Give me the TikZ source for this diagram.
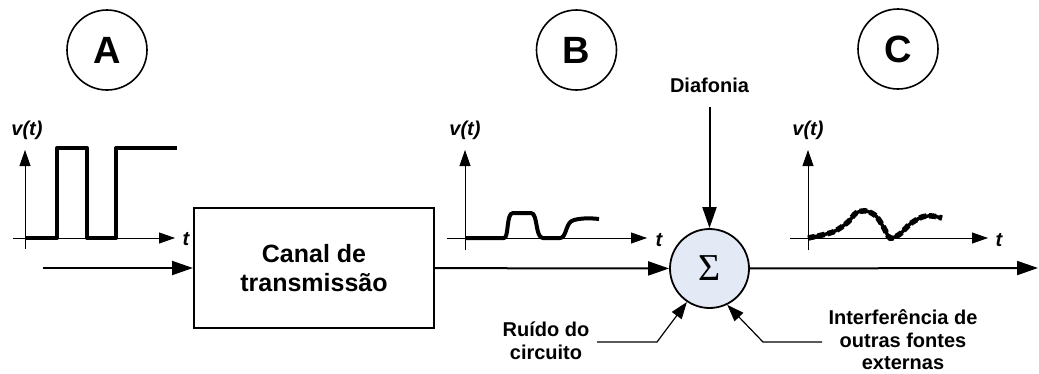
\documentclass[tikz,border=0pt]{standalone}
\usepackage{fontspec}
\setmainfont{Liberation Sans}
\newfontfamily\greekfont{Liberation Serif}
\usetikzlibrary{arrows.meta,positioning}
\definecolor{ink}{HTML}{000000}
\definecolor{sumfill}{HTML}{E3EAF6}
\tikzset{
  marker/.style={circle, draw=ink, line width=1.6pt, minimum size=80pt, inner sep=0pt, font=\fontsize{38}{40}\selectfont\bfseries},
  block/.style={draw=ink, line width=2pt, minimum width=240pt, minimum height=120pt, inner sep=0pt, align=center, font=\fontsize{25}{29}\selectfont\bfseries},
  sum/.style={circle, draw=ink, line width=1.8pt, fill=sumfill, minimum size=79pt, inner sep=0pt, font=\greekfont\fontsize{38}{38}\selectfont},
  lbl/.style={font=\fontsize{20}{22.5}\selectfont\bfseries, align=center, inner sep=0pt},
  axlbl/.style={font=\fontsize{20}{22}\selectfont\bfseries\itshape, inner sep=0pt},
  arrow/.style={-{Triangle[length=21pt,width=14pt]}, line width=2pt, draw=ink},
  axis/.style={-{Triangle[length=16pt,width=11pt]}, line width=0.8pt, draw=ink},
  leader/.style={-{Triangle[length=17pt,width=12pt]}, line width=1.2pt, draw=ink},
  signal/.style={line width=4pt, draw=ink, line join=round},
  noisy/.style={line width=5.5pt, draw=ink, dash pattern=on 7pt off 3pt}
}
\begin{document}
\begin{tikzpicture}[x=1pt, y=-1pt]
\useasboundingbox (0,0) rectangle (1039,373);
% stage markers
\node[marker] (mA) at (107,50) {A};
\node[marker] (mB) at (576.5,50) {B};
\node[marker] (mC) at (898,49) {C};
% channel and summing point
\node[block] (chan) at (314,268) {Canal de\\transmissão};
\node[sum] (sum) at (709.5,268.5) {Σ};
\coordinate (in) at (43,268);
\coordinate (out) at (1038,268);
\draw[arrow] (in) -- (chan);
\draw[arrow] (chan) -- (sum);
\draw[arrow] (sum) -- (out);
% interference sources
\node[lbl] (diaf) at (709.5,85) {Diafonia};
\coordinate (diafin) at (709.5,107);
\draw[arrow] (diafin) -- (sum);
\node[lbl] (ruido) at (546,341) {Ruído do\\circuito};
\coordinate (ruidoin) at (597,342);
\draw[leader] (ruidoin) -- (657,342) -- (sum.236);
\node[lbl] (interf) at (903,340) {Interferência de\\outras fontes\\externas};
\coordinate (interfin) at (822,342);
\draw[leader] (interfin) -- (763,342) -- (sum.296);
% plot A
\node[axlbl] (vA) at (27,130) {v(t)};
\node[axlbl] (tA) at (186,239) {t};
\draw[axis] (25,249) -- (25,150);
\draw[axis] (13,238) -- (175,238);
\draw[signal] (25,238) -- (57,238) -- (57,148) -- (87,148) -- (87,238) -- (116,238) -- (116,148) -- (177,148);
% plot B
\node[axlbl] (vB) at (465,130) {v(t)};
\node[axlbl] (tB) at (659,240) {t};
\draw[axis] (465,250) -- (465,150);
\draw[axis] (447,238) -- (647,238);
\draw[signal] (465,238) -- (504,238) .. controls (509,238) and (506,213) .. (513,213) -- (531,213)
  .. controls (538,213) and (535,238) .. (543,238) -- (560,238)
  .. controls (567,238) and (565,222) .. (574,220) .. controls (582,218) and (590,218) .. (599,219);
% plot C
\node[axlbl] (vC) at (808,130) {v(t)};
\node[axlbl] (tC) at (999,240) {t};
\draw[axis] (808,250) -- (808,150);
\draw[axis] (790,238) -- (988,238);
\draw[signal, line width=3.5pt] plot[smooth] coordinates {(808,238) (833,232) (848,222) (856,213) (866,211) (876,216) (884,228) (890,238) (900,234) (910,224) (922,217) (932,216) (942,218)};
\draw[noisy] plot[smooth] coordinates {(808,238) (833,232) (848,222) (856,213) (866,211) (876,216) (884,228) (890,238) (900,234) (910,224) (922,217) (932,216) (942,218)};
\end{tikzpicture}
\end{document}
